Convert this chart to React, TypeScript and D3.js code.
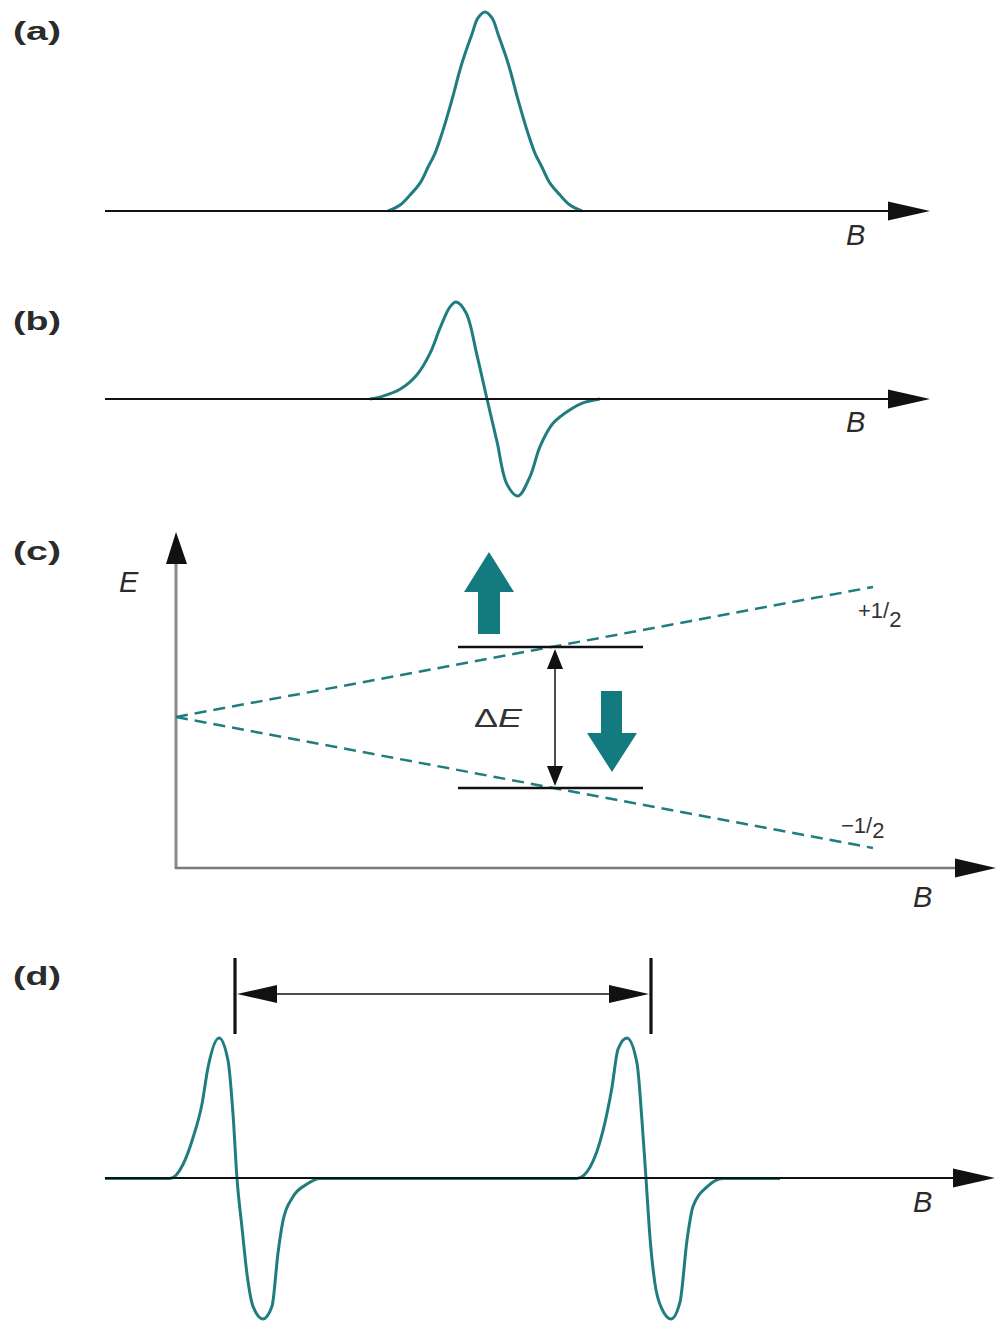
import React from "react";
import * as d3 from "d3";

const W = 999;
const H = 1323;

// ---- Data (B in arbitrary field units, intensities normalised) ----
// (a) absorption line
const absB = [283, 295, 305, 315, 323, 330, 337, 347, 355, 360, 367, 373, 380, 387, 393, 400, 405, 413, 423, 430, 437, 445, 455, 465, 477];
const absI = [0, 0.03, 0.08, 0.14, 0.22, 0.29, 0.39, 0.56, 0.71, 0.79, 0.89, 0.97, 1, 0.97, 0.89, 0.79, 0.71, 0.56, 0.39, 0.29, 0.22, 0.14, 0.08, 0.03, 0];

// (b) first-derivative line
const derB = [265, 278, 295, 312, 325, 335, 345, 351, 361, 372, 382, 392, 402, 413, 425, 435, 448, 465, 478, 495];
const derI = [0, 0.03, 0.1, 0.25, 0.47, 0.73, 0.95, 1, 0.89, 0.45, 0, -0.44, -0.88, -1, -0.8, -0.49, -0.25, -0.11, -0.04, 0];

// (c) Zeeman levels (E vs B), ms = +1/2 and -1/2
const zeemanB = [0, 697];
const upperE = [0, 130];
const lowerE = [0, -131];
const levelE = [70, -71];
const levelSpanB = [282, 467];
const resonanceB = 379;
const spinLabels = ["+1/", "\u22121/"];

// (d) two-line derivative spectrum
const hfB = [0, 65, 78, 88, 97, 103, 114, 123, 128, 132, 137, 142, 148, 158, 167, 173, 178, 188, 202, 215,
  472, 485, 498, 507, 513, 522, 532, 537, 541, 545, 550, 557, 566, 575, 582, 588, 602, 618, 675];
const hfI = [0, 0, 0.1, 0.29, 0.53, 0.79, 1, 0.84, 0.46, 0, -0.35, -0.68, -0.91, -1, -0.91, -0.53, -0.3, -0.13, -0.04, 0,
  0, 0.08, 0.34, 0.65, 0.92, 1, 0.82, 0.41, 0, -0.42, -0.75, -0.93, -1, -0.88, -0.44, -0.2, -0.06, 0, 0];
const hfSplitB = [130, 546];

const panelLabels = ["(a)", "(b)", "(c)", "(d)"];

// ---- Styles ----
const TEAL = "#1f7d7f";
const ARROW_TEAL = "#137a80";
const FONT = "'Liberation Sans', Arial, sans-serif";

const xSpec = d3.scaleLinear().domain([0, 890]).range([105, 995]);
const yA = d3.scaleLinear().domain([0, 1]).range([211, 12]);
const yB = d3.scaleLinear().domain([-1, 1]).range([496, 302]);
const yD = d3.scaleLinear().domain([-1, 1]).range([1319, 1038]);
const xC = d3.scaleLinear().domain([0, 820]).range([176, 996]);
const yC = d3.scaleLinear().domain([-151, 185]).range([868, 532]);

function makeLine(xs: number[], ys: number[], xsc: any, ysc: any, curve: any) {
  const pts = xs.map((b, i) => [b, ys[i]] as [number, number]);
  return d3
    .line<[number, number]>()
    .x((d) => xsc(d[0]))
    .y((d) => ysc(d[1]))
    .curve(curve)(pts) as string;
}

function hArrowAxis(x0: number, x1: number, y: number, color = "#111", sw = 2) {
  return (
    <g>
      <line x1={x0} x2={x1 - 38} y1={y} y2={y} stroke={color} strokeWidth={sw} />
      <path d={`M${x1 - 42},${y - 9.5} L${x1},${y} L${x1 - 42},${y + 9.5} Z`} fill="#111" />
    </g>
  );
}

function BLabel({ x, y }: { x: number; y: number }) {
  return (
    <text x={x} y={y} fontFamily={FONT} fontStyle="italic" fontSize={29} fill="#2a2a2a">
      B
    </text>
  );
}

export default function App() {
  const smooth = d3.curveCatmullRom.alpha(0.5);
  const pathA = makeLine(absB, absI, xSpec, yA, smooth);
  const pathB = makeLine(derB, derI, xSpec, yB, smooth);
  const pathD = makeLine(hfB, hfI, xSpec, yD, d3.curveMonotoneX);
  const upLine = makeLine(zeemanB, upperE, xC, yC, d3.curveLinear);
  const lowLine = makeLine(zeemanB, lowerE, xC, yC, d3.curveLinear);
  const labelYs = [40, 330, 560, 985];
  const lvlX0 = xC(levelSpanB[0]);
  const lvlX1 = xC(levelSpanB[1]);
  const resX = xC(resonanceB);
  const yUp = yC(levelE[0]);
  const yLo = yC(levelE[1]);
  const dL = xSpec(hfSplitB[0]);
  const dR = xSpec(hfSplitB[1]);
  const dY = 994;

  return (
    <svg
      width={W}
      height={H}
      viewBox={`0 0 ${W} ${H}`}
      style={{ position: "absolute", left: 0, top: 0, display: "block", background: "#fff" }}
    >
      <rect width={W} height={H} fill="#fff" />
      {panelLabels.map((t, i) => (
        <text key={t} x={13} y={labelYs[i]} fontFamily={FONT} fontWeight="bold" fontSize={26} fill="#2b2b2b"
          textLength={48} lengthAdjust="spacingAndGlyphs">
          {t}
        </text>
      ))}

      {/* (a) */}
      <path d={pathA} fill="none" stroke={TEAL} strokeWidth={3} />
      {hArrowAxis(105, 930, 211)}
      <BLabel x={846} y={245} />

      {/* (b) */}
      <path d={pathB} fill="none" stroke={TEAL} strokeWidth={3} />
      {hArrowAxis(105, 930, 399)}
      <BLabel x={846} y={432} />

      {/* (c) */}
      <line x1={176} x2={176} y1={869} y2={560} stroke="#8a8a8a" strokeWidth={3} />
      <path d={`M166,564 L176,532 L187,564 Z`} fill="#111" />
      <line x1={175} x2={958} y1={868} y2={868} stroke="#7a7a7a" strokeWidth={2.5} />
      <path d={`M955,858.5 L996,868 L955,877.5 Z`} fill="#111" />
      <text x={119} y={592} fontFamily={FONT} fontStyle="italic" fontSize={29} fill="#2a2a2a">E</text>
      <BLabel x={913} y={907} />

      <path d={upLine} fill="none" stroke={TEAL} strokeWidth={2.5} strokeDasharray="12 7" />
      <path d={lowLine} fill="none" stroke={TEAL} strokeWidth={2.5} strokeDasharray="12 7" />

      <line x1={lvlX0} x2={lvlX1} y1={yUp} y2={yUp} stroke="#111" strokeWidth={2.5} />
      <line x1={lvlX0} x2={lvlX1} y1={yLo} y2={yLo} stroke="#111" strokeWidth={2.5} />

      <line x1={resX} x2={resX} y1={yUp + 10} y2={yLo - 10} stroke="#111" strokeWidth={1.5} />
      <path d={`M${resX - 8},${yUp + 22} L${resX},${yUp + 2} L${resX + 8},${yUp + 22} Z`} fill="#111" />
      <path d={`M${resX - 8},${yLo - 22} L${resX},${yLo - 2} L${resX + 8},${yLo - 22} Z`} fill="#111" />

      <text x={474} y={727} fontFamily={FONT} fontSize={25} fill="#333" textLength={48} lengthAdjust="spacingAndGlyphs">
        Δ<tspan fontStyle="italic">E</tspan>
      </text>

      {/* spin arrows */}
      <path d="M478,634 L478,592 L464,592 L489,552 L514,592 L500,592 L500,634 Z" fill={ARROW_TEAL} />
      <path d="M601,691 L601,733 L587,733 L612,772 L637,733 L622,733 L622,691 Z" fill={ARROW_TEAL} />

      <text x={858} y={618} fontFamily={FONT} fontSize={22} fill="#333">
        {spinLabels[0]}
        <tspan dy={9}>2</tspan>
      </text>
      <text x={841} y={833} fontFamily={FONT} fontSize={22} fill="#333">
        {spinLabels[1]}
        <tspan dy={5}>2</tspan>
      </text>

      {/* (d) */}
      <path d={pathD} fill="none" stroke={TEAL} strokeWidth={3} />
      {hArrowAxis(105, 995, 1178)}
      <BLabel x={913} y={1212} />

      <line x1={dL} x2={dL} y1={958} y2={1034} stroke="#111" strokeWidth={3.2} />
      <line x1={dR} x2={dR} y1={958} y2={1034} stroke="#111" strokeWidth={3.2} />
      <line x1={dL + 30} x2={dR - 30} y1={dY} y2={dY} stroke="#111" strokeWidth={1.6} />
      <path d={`M${dL + 2},${dY} L${dL + 42},${dY - 9} L${dL + 42},${dY + 9} Z`} fill="#111" />
      <path d={`M${dR - 2},${dY} L${dR - 42},${dY - 9} L${dR - 42},${dY + 9} Z`} fill="#111" />
    </svg>
  );
}
